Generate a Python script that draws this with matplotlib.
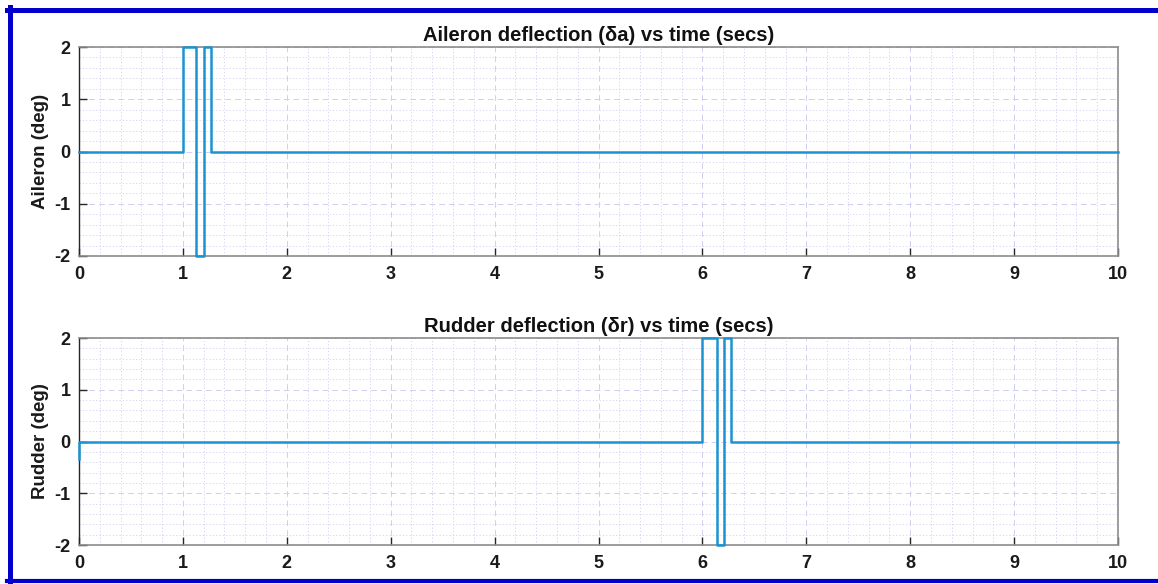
import numpy as np
import matplotlib.pyplot as plt
from matplotlib.lines import Line2D
from matplotlib.ticker import MultipleLocator

# step signals (time in secs, deflection in deg)
t_ail = [0, 1.0, 1.0, 1.13, 1.13, 1.2, 1.2, 1.27, 1.27, 10]
d_ail = [0, 0, 2, 2, -2, -2, 2, 2, 0, 0]

t_rud = [0, 0, 6.0, 6.0, 6.14, 6.14, 6.21, 6.21, 6.28, 6.28, 10]
d_rud = [-0.33, 0, 0, 2, 2, -2, -2, 2, 2, 0, 0]

panels = [
    (t_ail, d_ail, 'Aileron deflection (\u03b4a) vs time (secs)', 'Aileron (deg)'),
    (t_rud, d_rud, 'Rudder deflection (\u03b4r) vs time (secs)', 'Rudder (deg)'),
]

line_col = '#1b93d2'
grid_col = '#cfcff2'

plt.rcParams['font.family'] = ['Liberation Sans', 'DejaVu Sans']
plt.rcParams['font.weight'] = 'bold'
plt.rcParams['axes.unicode_minus'] = False

W, H = 1158, 584
fig = plt.figure(figsize=(W / 100, H / 100), dpi=100)

# axes boxes in pixels: left, top, right, bottom
boxes = [(79, 47, 1118, 256), (79, 338, 1118, 545)]

for (t, d, title, ylab), (l, tp, r, b) in zip(panels, boxes):
    ax = fig.add_axes([l / W, 1 - b / H, (r - l) / W, (b - tp) / H])
    ax.plot(t, d, color=line_col, lw=1.8, clip_on=False, zorder=5)
    ax.set_xlim(0, 10)
    ax.set_ylim(-2, 2)
    ax.xaxis.set_major_locator(MultipleLocator(1))
    ax.yaxis.set_major_locator(MultipleLocator(1))
    ax.xaxis.set_minor_locator(MultipleLocator(0.2))
    ax.yaxis.set_minor_locator(MultipleLocator(0.2))
    ax.grid(which='major', color=grid_col, ls=(0, (6, 4)), lw=0.7)
    ax.grid(which='minor', color=grid_col, ls=(0, (1.5, 2.5)), lw=0.6)
    ax.set_axisbelow(True)
    ax.tick_params(which='major', direction='in', length=6, width=1,
                   labelsize=13, color='#262626', top=False, right=False)
    ax.tick_params(axis='x', pad=7)
    ax.tick_params(axis='y', pad=6)
    ax.tick_params(which='minor', length=0)
    for lab in ax.get_xticklabels() + ax.get_yticklabels():
        lab.set_fontweight('bold')
        lab.set_color('#1a1a1a')
    for s in ['top', 'right']:
        ax.spines[s].set_color('#8c8c8c')
        ax.spines[s].set_linewidth(1.2)
    ax.spines['left'].set_color('#262626')
    ax.spines['bottom'].set_color('#8c8c8c')
    ax.spines['left'].set_linewidth(1.0)
    ax.spines['bottom'].set_linewidth(1.2)
    ax.set_title(title, fontsize=14.5, fontweight='bold', pad=4, color='#111111')
    ax.set_ylabel(ylab, fontsize=13.5, fontweight='bold', labelpad=4, color='#1a1a1a')

# blue frame around the figure
blue = '#0000cc'
fig.add_artist(Line2D([7 / W, 1], [1 - 9.5 / H, 1 - 9.5 / H], color=blue, lw=3.6,
                      transform=fig.transFigure))
fig.add_artist(Line2D([9.5 / W, 9.5 / W], [1 - 7 / H, 0], color=blue, lw=3.6,
                      transform=fig.transFigure))
fig.add_artist(Line2D([7 / W, 1], [1 - 580.5 / H, 1 - 580.5 / H], color=blue, lw=3.0,
                      transform=fig.transFigure))

fig.savefig('out.png', dpi=100)
